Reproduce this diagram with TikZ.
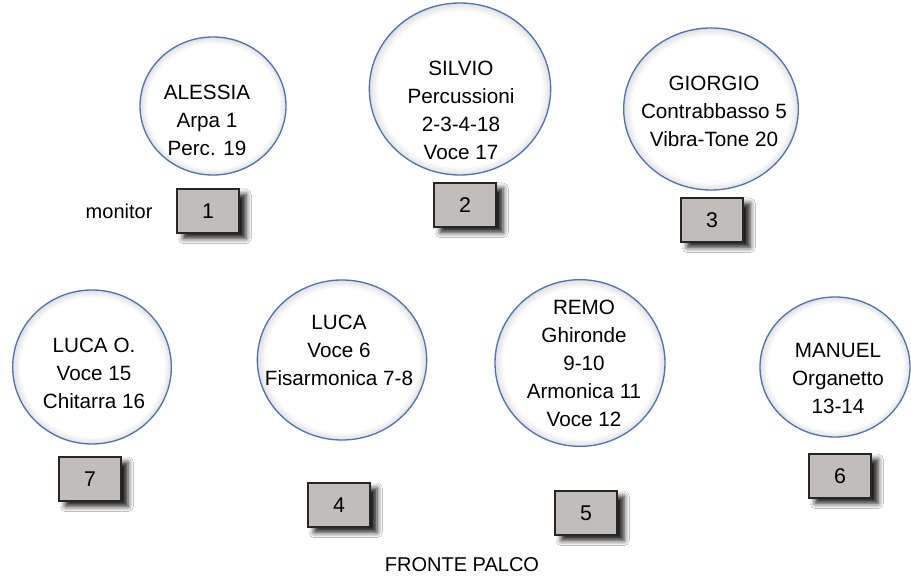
\documentclass[tikz,border=0pt]{standalone}
\usepackage{fontspec}
\setmainfont{Liberation Sans}
\usetikzlibrary{positioning,shapes.geometric,shadows.blur}
\definecolor{ringblue}{RGB}{79,116,180}
\definecolor{boxgray}{RGB}{192,189,186}
\pgfdeclareradialshading{halo}{\pgfpoint{0bp}{0bp}}{color(0bp)=(white); color(22.5bp)=(white); color(25bp)=(black!12); color(50bp)=(black!12)}
\begin{document}
\begin{tikzpicture}[x=0.75pt,y=-0.75pt,
    ring/.style={ellipse, draw=ringblue, line width=1pt, shading=halo, inner sep=0pt},
    names/.style={align=center, inner sep=0pt, font=\fontsize{15.5}{21}\selectfont},
    monbox/.style={rectangle, draw=black!85, line width=1.3pt, fill=boxgray, minimum width=47pt, minimum height=33pt, font=\fontsize{16}{19}\selectfont,
      blur shadow={shadow xshift=5pt, shadow yshift=-4pt, shadow opacity=90, shadow blur radius=4pt}},
    lbl/.style={font=\fontsize{15}{18}\selectfont}]
        \useasboundingbox[fill=white] (0,0) rectangle (911,580);
        \node[ring, minimum width=109.5pt, minimum height=103.5pt] (alessia) at (213,106) {};
        \node[ring, minimum width=136pt, minimum height=129pt] (silvio) at (460,89) {};
        \node[ring, minimum width=131pt, minimum height=121.5pt] (giorgio) at (711,109) {};
        \node[ring, minimum width=119pt, minimum height=115.5pt] (lucao) at (92,367) {};
        \node[ring, minimum width=127pt, minimum height=120pt] (luca) at (342,360) {};
        \node[ring, minimum width=127.5pt, minimum height=125pt] (remo) at (580,363) {};
        \node[ring, minimum width=112.5pt, minimum height=105pt] (manuel) at (835,367) {};
        \node[names] (alessia-txt) at (207,120) {ALESSIA\\Arpa 1\\Perc. 19};
        \node[names] (silvio-txt) at (461,110) {SILVIO\\Percussioni\\2-3-4-18\\Voce 17};
        \node[names] (giorgio-txt) at (714,111) {GIORGIO\\Contrabbasso 5\\Vibra-Tone 20};
        \node[names] (lucao-txt) at (94,373) {LUCA O.\\Voce 15\\Chitarra 16};
        \node[names] (luca-txt) at (339,350) {LUCA\\Voce 6\\Fisarmonica 7-8};
        \node[names] (remo-txt) at (584,363) {REMO\\Ghironde\\9-10\\Armonica 11\\Voce 12};
        \node[names] (manuel-txt) at (838,378) {MANUEL\\Organetto\\13-14};
        \node[monbox] (mon1) at (208,211) {1};
        \node[monbox] (mon2) at (465,205) {2};
        \node[monbox] (mon3) at (712,220) {3};
        \node[monbox] (mon7) at (90,479) {7};
        \node[monbox] (mon4) at (339,505) {4};
        \node[monbox] (mon5) at (586,513) {5};
        \node[monbox] (mon6) at (840,476) {6};
        \node[lbl, left=14pt of mon1] (monitor) {monitor};
        \node[lbl] (fronte) at (462,565) {FRONTE PALCO};
    \end{tikzpicture}
\end{document}
